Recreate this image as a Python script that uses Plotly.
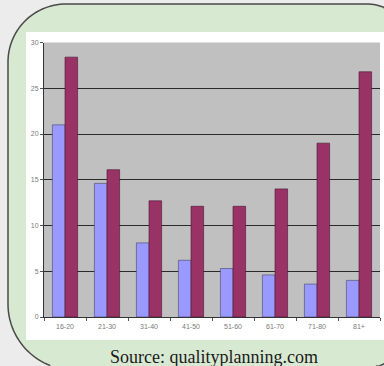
import math
import plotly.graph_objects as go

# Age bands and the two series plotted per band
categories = ["16-20", "21-30", "31-40", "41-50", "51-60", "61-70", "71-80", "81+"]
series_a = [21.0, 14.6, 8.1, 6.2, 5.3, 4.6, 3.6, 4.0]
series_b = [28.4, 16.1, 12.7, 12.1, 12.1, 14.0, 19.0, 26.8]
y_ticks = [0, 5, 10, 15, 20, 25, 30]

W, H = 384, 366


def px(x):
    return x / W


def py(y):
    return 1 - y / H


def rounded_outline(x0, y0, x1, y1, r_tl, r_tr, r_br, r_bl, step=3):
    """Points (in pixels) around a rounded rectangle, clockwise from the top-right corner."""
    corners = [
        (x1 - r_tr, y0 + r_tr, r_tr, -90, 0),
        (x1 - r_br, y1 - r_br, r_br, 0, 90),
        (x0 + r_bl, y1 - r_bl, r_bl, 90, 180),
        (x0 + r_tl, y0 + r_tl, r_tl, 180, 270),
    ]
    pts = []
    for cx, cy, r, a0, a1 in corners:
        a = a0
        while a <= a1 + 1e-9:
            t = math.radians(a)
            pts.append((cx + r * math.cos(t), cy + r * math.sin(t)))
            a += step
    return pts


def inside(p, tol=0.5):
    return -tol <= p[0] <= W + tol and -tol <= p[1] <= H + tol


def clamp(p):
    return (min(max(p[0], 0), W), min(max(p[1], 0), H))


def fill_path(pts):
    c = [clamp(p) for p in pts]
    return "M " + " L ".join(f"{px(x):.5f},{py(y):.5f}" for x, y in c) + " Z"


def border_path(pts):
    ring = pts + [pts[0]]
    runs, cur = [], []
    for p in ring:
        if inside(p):
            cur.append(p)
        else:
            if cur:
                cur.append(clamp(p))
                runs.append(cur)
            cur = []
    if cur:
        runs.append(cur)
    parts = []
    for run in runs:
        if len(run) > 1:
            parts.append("M " + " L ".join(f"{px(x):.5f},{py(y):.5f}" for x, y in run))
    return " ".join(parts)


panel = rounded_outline(8, 4, 416, 370, 58, 50, 58, 66)

fig = go.Figure()
fig.add_trace(go.Bar(
    x=categories, y=series_a,
    marker=dict(color="#9999ff", line=dict(color="#444466", width=0.6)),
))
fig.add_trace(go.Bar(
    x=categories, y=series_b,
    marker=dict(color="#993366", line=dict(color="#4a1030", width=0.6)),
))

plot_x0, plot_x1, plot_y0, plot_y1 = 44, 380, 42.5, 317

shapes = [
    # green rounded panel (fill, then its visible outline)
    dict(type="path", xref="paper", yref="paper", path=fill_path(panel),
         fillcolor="#d8e9d2", line=dict(width=0), layer="below"),
    dict(type="path", xref="paper", yref="paper", path=border_path(panel),
         fillcolor="rgba(0,0,0,0)", line=dict(color="#4a4a4a", width=1.5), layer="below"),
    # white chart area
    dict(type="rect", xref="paper", yref="paper",
         x0=px(26), x1=px(384), y0=py(340), y1=py(32),
         fillcolor="#ffffff", line=dict(width=0), layer="below"),
    # gray plot area
    dict(type="rect", xref="paper", yref="paper",
         x0=px(plot_x0), x1=px(plot_x1), y0=py(plot_y1), y1=py(plot_y0),
         fillcolor="#c0c0c0", line=dict(width=0), layer="below"),
]

fig.update_layout(
    width=W, height=H,
    margin=dict(l=0, r=0, t=0, b=0, autoexpand=False),
    paper_bgcolor="#ececec",
    plot_bgcolor="rgba(0,0,0,0)",
    showlegend=False,
    barmode="group",
    bargap=0.4,
    bargroupgap=0.0,
    shapes=shapes,
    xaxis=dict(
        domain=[px(plot_x0), px(plot_x1)],
        range=[-0.5, 7.5],
        automargin=False,
        showgrid=False,
        showline=True, linecolor="#333333", linewidth=1,
        ticks="outside", tickson="boundaries", ticklen=3, tickcolor="#555555",
        ticklabelstandoff=3,
        tickfont=dict(family="Liberation Sans", size=7, color="#7a7a7a"),
        fixedrange=True,
    ),
    yaxis=dict(
        domain=[py(plot_y1), py(plot_y0)],
        range=[0, 30],
        tickvals=y_ticks,
        automargin=False,
        showgrid=True, gridcolor="#2a2a2a", gridwidth=1,
        zeroline=False,
        showline=True, linecolor="#333333", linewidth=1,
        ticks="outside", ticklen=3, tickcolor="#555555",
        tickfont=dict(family="Liberation Sans", size=7, color="#7a7a7a"),
        fixedrange=True,
    ),
    annotations=[dict(
        text="Source: qualityplanning.com",
        xref="paper", yref="paper", x=px(214), y=py(357),
        xanchor="center", yanchor="middle", showarrow=False,
        font=dict(family="Liberation Serif", size=18, color="#1a1a1a"),
    )],
)

fig.write_html("out.html")
